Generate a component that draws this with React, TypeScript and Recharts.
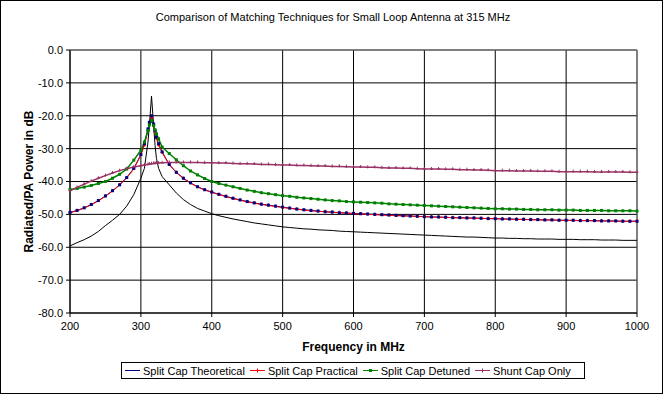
import React from "react";
import { LineChart, Line, XAxis, YAxis, CartesianGrid, ReferenceLine, Label } from "recharts";

// frequency points (MHz)
const FREQ = [
  200, 210, 220, 230, 240, 250, 260, 270, 280, 290, 300,
  305, 310, 312, 315, 318, 320, 322, 325,
  330, 340, 350, 360, 370, 380, 390, 400,
  410, 420, 430, 440, 450, 460, 470, 480, 490, 500,
  510, 520, 530, 540, 550, 560, 570, 580, 590, 600,
  610, 620, 630, 640, 650, 660, 670, 680, 690, 700,
  710, 720, 730, 740, 750, 760, 770, 780, 790, 800,
  810, 820, 830, 840, 850, 860, 870, 880, 890, 900,
  910, 920, 930, 940, 950, 960, 970, 980, 990, 1000,
];

// unlabelled black curve
const REFERENCE = [
  -59.6, -58.6, -57.7, -56.6, -55.2, -53.4, -51.8, -50, -47.5, -44, -39,
  -36, -28, -23, -14, -23, -29, -33, -36,
  -38.5, -41, -43.5, -45.5, -47, -48.2, -49, -49.8,
  -50.4, -50.9, -51.4, -51.8, -52.2, -52.6, -52.9, -53.2, -53.5, -53.8,
  -54, -54.2, -54.4, -54.5, -54.7, -54.8, -54.9, -55.1, -55.2, -55.3,
  -55.4, -55.5, -55.6, -55.7, -55.8, -55.9, -56, -56.1, -56.2, -56.3,
  -56.4, -56.5, -56.6, -56.7, -56.8, -56.9, -56.9, -57, -57.1, -57.2,
  -57.2, -57.3, -57.3, -57.4, -57.4, -57.5, -57.5, -57.5, -57.6, -57.6,
  -57.6, -57.7, -57.7, -57.7, -57.8, -57.8, -57.8, -57.9, -57.9, -57.9,
];

const THEORETICAL = [
  -49.4, -48.8, -48, -47, -45.8, -44.4, -42.8, -41, -38.8, -36, -31.8,
  -28.5, -24, -22, -20, -22.5, -24.5, -26.5, -28.5,
  -31, -34.8, -37.2, -39, -40.4, -41.6, -42.5, -43.2,
  -43.9, -44.5, -45.1, -45.6, -46.1, -46.5, -46.9, -47.2, -47.5, -47.8,
  -48.1, -48.4, -48.6, -48.8, -49, -49.2, -49.3, -49.5, -49.6, -49.7,
  -49.8, -49.9, -50, -50.1, -50.2, -50.3, -50.4, -50.5, -50.6, -50.7,
  -50.8, -50.8, -50.9, -51, -51, -51.1, -51.1, -51.2, -51.3, -51.3,
  -51.4, -51.4, -51.5, -51.5, -51.6, -51.6, -51.7, -51.7, -51.8, -51.8,
  -51.8, -51.9, -51.9, -51.9, -52, -52, -52, -52.1, -52.1, -52.1,
];

const PRACTICAL = [
  -49.5, -48.9, -48.1, -47.1, -45.9, -44.5, -42.9, -41.1, -38.9, -36.2, -32,
  -29, -24.5, -22.5, -20.5, -23, -25, -27, -29,
  -31.2, -34.9, -37.3, -39.1, -40.5, -41.7, -42.6, -43.3,
  -44, -44.6, -45.2, -45.7, -46.2, -46.6, -47, -47.3, -47.6, -47.9,
  -48.2, -48.4, -48.7, -48.9, -49.1, -49.2, -49.4, -49.5, -49.6, -49.8,
  -49.9, -50, -50.1, -50.2, -50.3, -50.4, -50.5, -50.5, -50.6, -50.7,
  -50.8, -50.9, -50.9, -51, -51.1, -51.1, -51.2, -51.2, -51.3, -51.3,
  -51.4, -51.5, -51.5, -51.6, -51.6, -51.7, -51.7, -51.7, -51.8, -51.8,
  -51.9, -51.9, -51.9, -52, -52, -52, -52.1, -52.1, -52.1, -52.1,
];

const DETUNED = [
  -42.4, -42.1, -41.7, -41.2, -40.6, -40, -39, -37.8, -36.2, -33.5, -30.5,
  -28, -24.5, -22.8, -21.5, -23, -24.3, -25.5, -27,
  -29.5, -31.5, -33.4, -35.2, -36.8, -38, -39.1, -40,
  -40.6, -41.1, -41.6, -42.1, -42.6, -43, -43.4, -43.7, -44, -44.3,
  -44.5, -44.8, -45, -45.2, -45.4, -45.6, -45.8, -45.9, -46.1, -46.2,
  -46.3, -46.4, -46.5, -46.6, -46.8, -46.9, -47, -47.1, -47.2, -47.3,
  -47.4, -47.5, -47.6, -47.7, -47.8, -47.9, -48, -48.1, -48.2, -48.3,
  -48.3, -48.4, -48.4, -48.5, -48.5, -48.6, -48.6, -48.6, -48.7, -48.7,
  -48.7, -48.8, -48.8, -48.8, -48.8, -48.9, -48.9, -48.9, -48.9, -49,
];

const SHUNT = [
  -42.8, -41.8, -40.8, -39.9, -39, -38.2, -37.4, -36.7, -36.1, -35.6, -35.2,
  -35, -34.8, -34.7, -34.6, -34.5, -34.5, -34.4, -34.4,
  -34.3, -34.2, -34.2, -34.2, -34.2, -34.2, -34.3, -34.3,
  -34.4, -34.4, -34.5, -34.6, -34.6, -34.7, -34.8, -34.8, -34.9, -35,
  -35, -35.1, -35.1, -35.2, -35.3, -35.3, -35.4, -35.4, -35.5, -35.6,
  -35.6, -35.7, -35.7, -35.8, -35.9, -35.9, -36, -36, -36.1, -36.2,
  -36.2, -36.2, -36.3, -36.3, -36.4, -36.4, -36.5, -36.5, -36.6, -36.7,
  -36.7, -36.7, -36.8, -36.8, -36.8, -36.9, -36.9, -36.9, -37, -37,
  -37, -37, -37, -37.1, -37.1, -37.1, -37.1, -37.1, -37.2, -37.2,
];

const X_TICKS = [200, 300, 400, 500, 600, 700, 800, 900, 1000];
const Y_TICKS = [0, -10, -20, -30, -40, -50, -60, -70, -80];

const data = FREQ.map((f, i) => ({
  f,
  ref: REFERENCE[i],
  theo: THEORETICAL[i],
  prac: PRACTICAL[i],
  det: DETUNED[i],
  shunt: SHUNT[i],
}));

const FONT = "'Liberation Sans', Arial, sans-serif";
const BLUE = "#000080";
const RED = "#ff0000";
const GREEN = "#008000";
const PURPLE = "#993366";

const square = (color: string) => (p: any) => {
  if (p.cx == null) return <g key={p.index} />;
  return <rect key={p.index} x={p.cx - 1.5} y={p.cy - 1.5} width={3} height={3} fill={color} />;
};

const plus = (color: string) => (p: any) => {
  if (p.cx == null) return <g key={p.index} />;
  return (
    <path key={p.index} d={`M${p.cx - 1.5},${p.cy}h3M${p.cx},${p.cy - 2}v3`} stroke={color} strokeWidth={1} fill="none" />
  );
};

const LEGEND = [
  { name: "Split Cap Theoretical", color: BLUE, mark: "none" },
  { name: "Split Cap Practical", color: RED, mark: "plus" },
  { name: "Split Cap Detuned", color: GREEN, mark: "square" },
  { name: "Shunt Cap Only", color: PURPLE, mark: "plus" },
];

function LegendBox() {
  return (
    <div
      style={{
        position: "absolute", left: 121, top: 362, width: 464, height: 17, boxSizing: "border-box",
        border: "1px solid #000", background: "#fff", display: "flex", alignItems: "center",
        paddingLeft: 3, gap: 5, fontFamily: FONT, fontSize: 11, whiteSpace: "nowrap",
      }}
    >
      {LEGEND.map((l) => (
        <div key={l.name} style={{ display: "flex", alignItems: "center" }}>
          <svg width={15} height={9} style={{ marginRight: 3 }}>
            <line x1={0} y1={4.5} x2={15} y2={4.5} stroke={l.color} strokeWidth={1} />
            {l.mark === "square" && <rect x={6} y={3} width={3} height={3} fill={l.color} />}
            {l.mark === "plus" && <path d="M6,4.5h3M7.5,2.5v4" stroke={l.color} />}
          </svg>
          <span>{l.name}</span>
        </div>
      ))}
    </div>
  );
}

export default function App() {
  return (
    <div style={{ position: "absolute", left: 0, top: 0, width: 663, height: 394, background: "#fff", fontFamily: FONT }}>
      <div style={{ position: "absolute", left: 0, top: 11, width: 666, textAlign: "center", fontSize: 11 }}>
        Comparison of Matching Techniques for Small Loop Antenna at 315 MHz
      </div>
      <LineChart width={663} height={394} data={data} margin={{ top: 50, right: 26, bottom: 61, left: 20 }}>
        <CartesianGrid stroke="#000" strokeWidth={1} fill="#fff" />
        <XAxis
          dataKey="f" type="number" domain={[200, 1000]} ticks={X_TICKS} height={20}
          stroke="#000" tickSize={4} tickMargin={5} interval={0}
          tick={{ fontSize: 11, fill: "#000", fontFamily: FONT }}
        >
          <Label
            content={(props: any) => {
              const vb = props.viewBox;
              return (
                <text x={vb.x + vb.width / 2} y={351} textAnchor="middle" fontSize={12} fontWeight="bold" fontFamily={FONT} fill="#000">
                  Frequency in MHz
                </text>
              );
            }}
          />
        </XAxis>
        <YAxis
          type="number" domain={[-80, 0]} ticks={Y_TICKS} width={50} interval={0}
          stroke="#000" tickSize={4} tickMargin={3}
          tickFormatter={(v: number) => v.toFixed(1)}
          tick={{ fontSize: 11, fill: "#000", fontFamily: FONT }}
        >
          <Label
            content={(props: any) => {
              const vb = props.viewBox;
              const cy = vb.y + vb.height / 2;
              return (
                <text x={33} y={cy} transform={`rotate(-90 33 ${cy})`} textAnchor="middle" fontSize={12} fontWeight="bold" fontFamily={FONT} fill="#000">
                  Radiated/PA Power in dB
                </text>
              );
            }}
          />
        </YAxis>
        <ReferenceLine y={0} stroke="#808080" />
        <ReferenceLine x={1000} stroke="#808080" />
        <Line dataKey="ref" type="linear" stroke="#000" strokeWidth={1} dot={false} isAnimationActive={false} />
        <Line dataKey="theo" type="linear" stroke={BLUE} strokeWidth={1} dot={false} isAnimationActive={false} />
        <Line dataKey="prac" type="linear" stroke={RED} strokeWidth={1} dot={plus(RED)} isAnimationActive={false} />
        {/* blue markers sit on top of the red line, as in the original */}
        <Line dataKey="theo" type="linear" stroke="none" dot={square(BLUE)} legendType="none" isAnimationActive={false} />
        <Line dataKey="det" type="linear" stroke={GREEN} strokeWidth={1.5} dot={square(GREEN)} isAnimationActive={false} />
        <Line dataKey="shunt" type="linear" stroke={PURPLE} strokeWidth={1.5} dot={plus(PURPLE)} isAnimationActive={false} />
      </LineChart>
      <LegendBox />
      <div style={{ position: "absolute", left: 0, top: 0, width: 663, height: 394, boxSizing: "border-box", border: "1px solid #000", pointerEvents: "none" }} />
    </div>
  );
}
